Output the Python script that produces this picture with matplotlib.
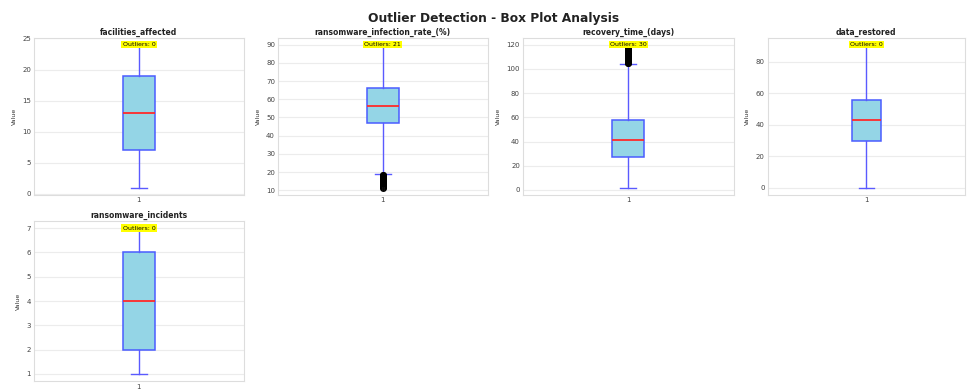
import matplotlib
matplotlib.use("Agg")
import matplotlib.pyplot as plt

columns = ["facilities_affected", "ransomware_infection_rate_(%)",
           "recovery_time_(days)", "data_restored", "ransomware_incidents"]
medians = [13, 56.5, 41, 43, 4]
q1s = [7, 47, 27.5, 29.5, 2]
q3s = [19, 66, 58, 55.5, 6]
whis_low = [1, 19, 2, 0, 1]
whis_high = [24, 90, 104, 91, 7]
outliers = [
    [],
    [11.5, 12, 12.5, 13, 13.3, 13.8, 14, 14.5, 15, 15.2, 15.6, 16, 16.3,
     16.7, 17, 17.2, 17.5, 17.8, 18, 18.2, 18.4],
    [104.5, 105, 105.5, 106, 106.5, 107, 107.5, 108, 108.5, 109, 109.5,
     110, 110.5, 111, 111.5, 112, 112.5, 113, 113.5, 114, 114.5, 115,
     115.5, 116, 116.5, 117, 117.5, 118, 119, 120],
    [],
    [],
]

fig = plt.figure(figsize=(9.68, 3.91), dpi=100)
fig.suptitle("Outlier Detection - Box Plot Analysis", fontsize=8.8,
             fontweight="bold", x=0.51, y=0.97, color="#222222")

lefts = [0.035, 0.287, 0.540, 0.793]
width = [0.217, 0.217, 0.218, 0.204]
rows = [(0.502, 0.402), (0.025, 0.41)]

for i, col in enumerate(columns):
    r, c = divmod(i, 4)
    ax = fig.add_axes([lefts[c], rows[r][0], width[c], rows[r][1]])
    stats = [dict(med=medians[i], q1=q1s[i], q3=q3s[i],
                  whislo=whis_low[i], whishi=whis_high[i],
                  fliers=outliers[i], label="1")]
    ax.bxp(stats, patch_artist=True, widths=0.15,
           boxprops=dict(facecolor="#94d5e6", edgecolor="#4a5cff", linewidth=1.1),
           medianprops=dict(color="#ff2a2a", linewidth=1.3),
           whiskerprops=dict(color="#5a5aff", linewidth=1.0),
           capprops=dict(color="#5a5aff", linewidth=1.0),
           flierprops=dict(marker="o", markerfacecolor="none",
                           markeredgecolor="black", markersize=4))
    ax.set_title(col, fontsize=5.5, fontweight="bold", pad=2, color="#222222")
    ax.set_ylabel("Value", fontsize=4.5, color="#333333")
    ax.tick_params(labelsize=5, length=0, pad=2, labelcolor="#444444")
    ax.grid(True, axis="y", color="#ececec", linewidth=0.8)
    ax.set_axisbelow(True)
    for s in ax.spines.values():
        s.set_color("#dddddd")
        s.set_linewidth(0.8)
    ax.text(0.5, 0.955, f"Outliers: {len(outliers[i])}", transform=ax.transAxes,
            ha="center", va="center", fontsize=4.5,
            bbox=dict(boxstyle="square,pad=0.2", facecolor="yellow",
                      edgecolor="none"))

fig.savefig("out.png", dpi=100)
